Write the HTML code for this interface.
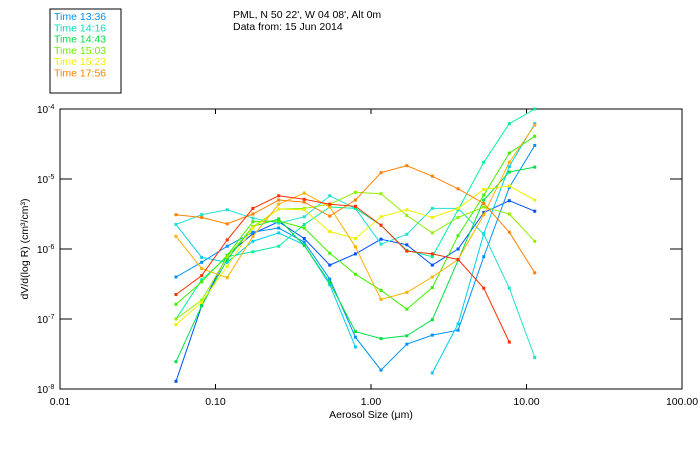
<!DOCTYPE html>
<html><head><meta charset="utf-8"><style>
body{margin:0;background:#fff;width:700px;height:450px;overflow:hidden}
svg text{font-family:"Liberation Sans",sans-serif;}
</style></head><body>
<svg id="chart" width="700" height="450" viewBox="0 0 700 450" xmlns="http://www.w3.org/2000/svg">
<rect x="50" y="9" width="71" height="84" fill="none" stroke="#000" stroke-width="1"/>
<g id="legend"></g>
<text x="233" y="18" font-size="10.5">PML, N 50 22', W 04 08', Alt 0m</text>
<text x="233" y="30" font-size="10.5">Data from: 15 Jun 2014</text>
<rect x="60" y="109" width="622" height="280" fill="none" stroke="#000" stroke-width="1"/>
<g id="axes"></g>
<g id="series"></g>
<text x="371" y="418" font-size="10.5" text-anchor="middle">Aerosol Size (μm)</text>
<text transform="translate(28,249) rotate(-90)" font-size="10.5" text-anchor="middle">dV/d(log R) (cm³/cm³)</text>
</svg>
<script>
const sizes=[0.0557,0.0815,0.119,0.174,0.255,0.372,0.543,0.794,1.16,1.70,2.48,3.63,5.31,7.75,11.3];
const legendLabels=["Time 13:36","Time 14:16","Time 14:43","Time 15:03","Time 15:23","Time 17:56"];
const legendColors=["#0090ff","#00e0c0","#00e040","#70f000","#f0f000","#ff8000"];
const xTicks=[0.01,0.1,1,10,100];
const xTickLabels=["0.01","0.10","1.00","10.00","100.00"];
const yTickExps=[-4,-5,-6,-7,-8];
const seriesColors=["#0050ff","#0090ff","#00d0f0","#20e0d0","#00f0a0","#00e040","#40f000","#90f000","#f0f000","#ffb000","#ff8000","#ff3000"];
// log10 of dV/d(log R)
const s1=[-7.89,-6.81,-6.09,-5.78,-5.61,-5.85,-6.23,-6.07,-5.86,-5.94,-6.23,-6.00,-5.48,-5.31,-5.46];
const s2=[-6.40,-6.19,-5.96,-5.76,-5.70,-5.90,-6.43,-7.26,-7.73,-7.36,-7.23,-7.16,-6.11,-5.12,-4.52];
const s3=[-5.65,-6.12,-6.19,-5.89,-5.77,-5.94,-6.51,-7.40,null,null,-7.77,-7.07,-5.78,-4.82,-4.21];
const s4=[-5.65,-5.51,-5.44,-5.56,-5.63,-5.54,-5.24,-5.42,-5.93,-5.79,-5.42,-5.42,-5.79,-6.56,-7.55];
const s5=[-7.00,-6.44,-6.11,-6.04,-5.96,-5.65,-5.40,-5.42,-5.66,-6.02,-6.11,-5.44,-4.76,-4.21,-4.00];
const s6=[-7.61,-6.81,-6.15,-5.68,-5.57,-5.95,-6.48,-7.18,-7.28,-7.24,-7.01,-6.16,-5.30,-4.90,-4.83];
const s7=[-6.79,-6.47,-6.09,-5.61,-5.60,-5.70,-6.06,-6.36,-6.59,-6.86,-6.55,-5.81,-5.23,-4.63,-4.39];
const s8=[-7.00,-6.73,-6.11,-5.68,-5.43,-5.42,-5.36,-5.19,-5.21,-5.52,-5.77,-5.55,-5.40,-5.50,-5.89];
const s9=[-7.08,-6.76,-6.25,-5.70,-5.43,-5.44,-5.75,-5.85,-5.54,-5.44,-5.55,-5.42,-5.15,-5.10,-5.30];
const s10=[-5.82,-6.28,-6.41,-5.82,-5.36,-5.20,-5.40,-5.97,-6.72,-6.62,-6.40,-6.15,-5.51,-4.76,-4.23];
const s11=[-5.51,-5.55,-5.64,-5.50,-5.30,-5.33,-5.53,-5.30,-4.91,-4.81,-4.96,-5.14,-5.35,-5.76,-6.34];
const s12=[-6.65,-6.38,-5.87,-5.42,-5.24,-5.29,-5.36,-5.39,-5.66,-6.03,-6.07,-6.15,-6.56,-7.33,null];
const allSeries=[s1,s2,s3,s4,s5,s6,s7,s8,s9,s10,s11,s12];

const NS="http://www.w3.org/2000/svg";
const L=60,R=682,T=109,B=389;
function xPos(v){return L+(Math.log10(v)+2)/4*(R-L);}
function yPos(e){return T+(-4-e)/4*(B-T);}
function mk(tag,attrs,parent){const el=document.createElementNS(NS,tag);for(const k in attrs)el.setAttribute(k,attrs[k]);parent.appendChild(el);return el;}

const axes=document.getElementById('axes');
xTicks.forEach((v,i)=>{
  const x=xPos(v);
  const t1=mk('line',{x1:x,x2:x,y1:B,y2:B-5,stroke:'#000'},axes);
  
  
  const t2=mk('line',{x1:x,x2:x,y1:T,y2:T+5,stroke:'#000'},axes);
  
  
  const tx=mk('text',{x:x,y:405,'font-size':'10.5','text-anchor':'middle'},axes);
  tx.textContent=xTickLabels[i];
  
  
});
yTickExps.forEach(e=>{
  const y=yPos(e);
  const t1=mk('line',{x1:L,x2:L+12,y1:y,y2:y,stroke:'#000'},axes);
  
  
  const t2=mk('line',{x1:R,x2:R-12,y1:y,y2:y,stroke:'#000'},axes);
  
  
  const tx=mk('text',{x:37,y:y+4,'font-size':'10'},axes);
  tx.textContent='10';
  const sp=mk('tspan',{dy:'-4','font-size':'7'},tx);
  sp.textContent=String(e);
  
  
});

const lg=document.getElementById('legend');
legendLabels.forEach((lab,i)=>{
  const t=mk('text',{x:54,y:20+i*11.3,'font-size':'10.5',fill:legendColors[i]},lg);
  t.textContent=lab;
  
  
});

const sg=document.getElementById('series');
allSeries.forEach((s,si)=>{
  const g=mk('g',{},sg);
  
  
  const col=seriesColors[si];
  let seg=[];
  const flush=()=>{if(seg.length>1)mk('polyline',{points:seg.join(' '),fill:'none',stroke:col,'stroke-width':'1'},g);seg=[];};
  s.forEach((e,i)=>{
    if(e===null){flush();return;}
    const x=xPos(sizes[i]),y=yPos(e);
    seg.push(x.toFixed(1)+','+y.toFixed(1));
    const m=mk('rect',{x:x-1.5,y:y-1.5,width:3,height:3,fill:col},g);
    
    
  });
  flush();
});
</script>
</body></html>
